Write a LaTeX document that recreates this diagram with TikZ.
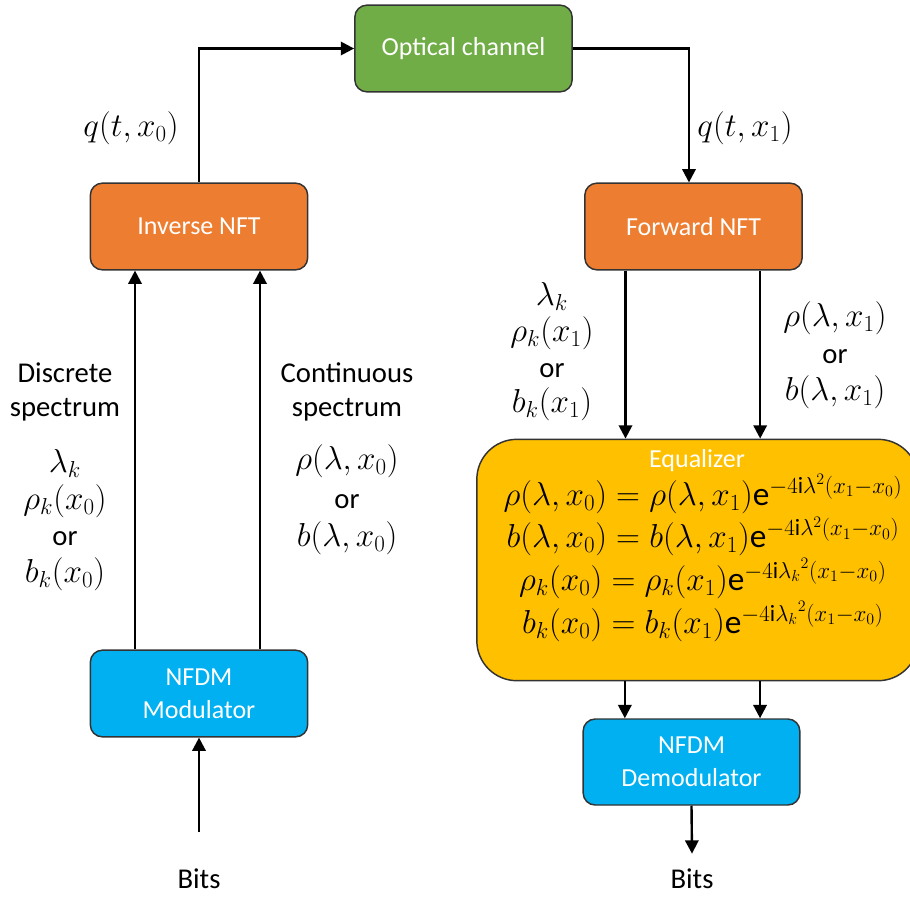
\documentclass[tikz,border=0pt]{standalone}
\usepackage{fontspec}
\setmainfont{Carlito}
\usepackage{amsmath}
\usepackage{xcolor}
\usepackage{tikz}
\usetikzlibrary{arrows.meta,positioning,calc}
\definecolor{chgreen}{HTML}{70AD47}
\definecolor{nftorange}{HTML}{ED7D31}
\definecolor{nfdmblue}{HTML}{00B0F0}
\definecolor{eqgold}{HTML}{FFC000}
\newcommand{\mth}[1]{{\fontsize{24}{28}\selectfont$#1$}}
\tikzset{
  every node/.style={font=\fontsize{21.5}{26}\selectfont},
  block/.style={draw=black!80, line width=1.1pt, rounded corners=9pt, align=center,
    minimum width=163pt, minimum height=65pt, text=white, font=\fontsize{19.5}{25}\selectfont},
  lbl/.style={align=center, inner sep=0pt},
  arrow/.style={-{Triangle[length=10pt,width=10pt]}, line width=1.8pt}
}

\begin{document}
\begin{tikzpicture}[x=0.75pt, y=-0.75pt]
\useasboundingbox (0,0) rectangle (910,897);

% 1. Blocks
\node[block, fill=chgreen] (chan) at (463.5,48.5) {Optical channel};
\node[block, fill=nftorange] (inft) at (199,226.5) {Inverse NFT};
\node[block, fill=nftorange] (fnft) at (693.5,226.5) {Forward NFT};
\node[block, fill=nfdmblue] (mod) at (199,693.5) {NFDM\\Modulator};
\node[block, fill=nfdmblue, minimum width=162.5pt, minimum height=64.5pt] (demod) at (691.5,762) {NFDM\\Demodulator};

% 2. Equalizer (runs past the right edge)
\node[draw=black!80, line width=1.1pt, fill=eqgold, rounded corners=30pt,
  minimum width=331pt, minimum height=181pt, inner sep=0pt] (eq) at (697.5,560) {};
\node[lbl, text=white, font=\fontsize{19.5}{25}\selectfont] (eqtitle) at (697,461) {Equalizer};
\node[lbl, font=\fontsize{25}{32}\selectfont] (eqrules) at (703,558)
  {$\rho(\lambda,x_0)=\rho(\lambda,x_1)\mathrm{e}^{-4\mathrm{i}\lambda^2(x_1-x_0)}$\\
   $b(\lambda,x_0)=b(\lambda,x_1)\mathrm{e}^{-4\mathrm{i}\lambda^2(x_1-x_0)}$\\
   $\rho_k(x_0)=\rho_k(x_1)\mathrm{e}^{-4\mathrm{i}{\lambda_k}^2(x_1-x_0)}$\\
   $b_k(x_0)=b_k(x_1)\mathrm{e}^{-4\mathrm{i}{\lambda_k}^2(x_1-x_0)}$};

% 3. Bits in / out
\node (bitsin) at (199,879) {Bits};
\node (bitsout) at (692,879) {Bits};

% 4. Signal labels
\node[lbl] (qin) at (131,128) {\mth{q(t,x_0)}};
\node[lbl] (qout) at (745,128) {\mth{q(t,x_1)}};
\node[lbl, font=\fontsize{21.5}{26}\selectfont] (disc) at (65,392) {Discrete\\spectrum};
\node[lbl, font=\fontsize{21.5}{27.5}\selectfont] (disctx) at (65,520)
  {\mth{\lambda_k}\\\mth{\rho_k(x_0)}\\or\\\mth{b_k(x_0)}};
\node[lbl, font=\fontsize{21.5}{26}\selectfont] (cont) at (347,392) {Continuous\\spectrum};
\node[lbl, font=\fontsize{21.5}{29}\selectfont] (conttx) at (347,500)
  {\mth{\rho(\lambda,x_0)}\\or\\\mth{b(\lambda,x_0)}};
\node[lbl, font=\fontsize{21.5}{26.8}\selectfont] (discrx) at (552,352)
  {\mth{\lambda_k}\\\mth{\rho_k(x_1)}\\or\\\mth{b_k(x_1)}};
\node[lbl, font=\fontsize{21.5}{27.7}\selectfont] (contrx) at (835,355)
  {\mth{\rho(\lambda,x_1)}\\or\\\mth{b(\lambda,x_1)}};

% 5. Connections
\draw[arrow] (inft.north) |- (chan.west);
\draw[arrow] (chan.east) -| ([xshift=-3.4pt]fnft.north);
\draw[arrow] ([xshift=-48pt]mod.north) -- ([xshift=-48pt]inft.south);
\draw[arrow] ([xshift=45.75pt]mod.north) -- ([xshift=45.75pt]inft.south);
\draw[arrow] ([yshift=24pt]bitsin.north) -- (mod.south);
\draw[arrow] ([xshift=-51pt]fnft.south) -- ([xshift=-51pt]fnft.south |- eq.north);
\draw[arrow] ([xshift=50pt]fnft.south) -- ([xshift=50pt]fnft.south |- eq.north);
\draw[arrow] ([xshift=-50pt]demod.north |- eq.south) -- ([xshift=-50pt]demod.north);
\draw[arrow] ([xshift=51.4pt]demod.north |- eq.south) -- ([xshift=51.4pt]demod.north);
\draw[arrow] (demod.south) -- ([yshift=8pt]bitsout.north);

\end{tikzpicture}
\end{document}
